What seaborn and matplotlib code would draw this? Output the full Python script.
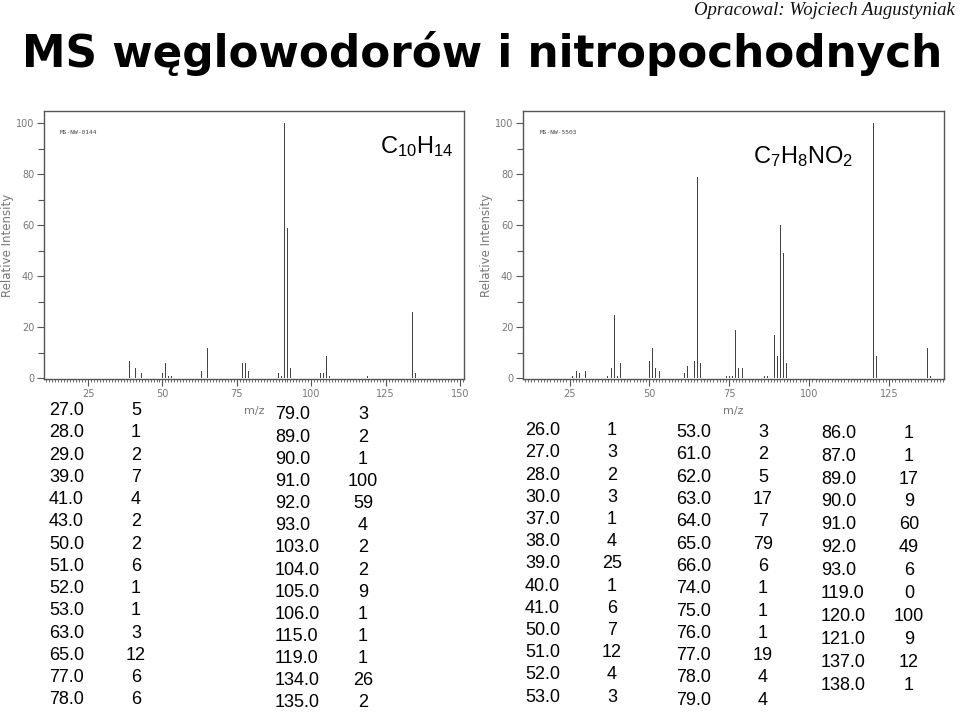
import matplotlib
matplotlib.use("Agg")
import matplotlib.pyplot as plt
import seaborn as sns
import pandas as pd
from matplotlib.ticker import MultipleLocator, FixedLocator

# ---------------- data ----------------
c10_mz = [27, 28, 29, 39, 41, 43, 50, 51, 52, 53, 63, 65, 77, 78,
          79, 89, 90, 91, 92, 93, 103, 104, 105, 106, 115, 119, 134, 135]
c10_int = [5, 1, 2, 7, 4, 2, 2, 6, 1, 1, 3, 12, 6, 6,
           3, 2, 1, 100, 59, 4, 2, 2, 9, 1, 1, 1, 26, 2]

n_mz = [26, 27, 28, 30, 37, 38, 39, 40, 41, 50, 51, 52, 53,
        53, 61, 62, 63, 64, 65, 66, 74, 75, 76, 77, 78, 79,
        86, 87, 89, 90, 91, 92, 93, 119, 120, 121, 137, 138]
n_int = [1, 3, 2, 3, 1, 4, 25, 1, 6, 7, 12, 4, 3,
         3, 2, 5, 17, 7, 79, 6, 1, 1, 1, 19, 4, 4,
         1, 1, 17, 9, 60, 49, 6, 0, 100, 9, 12, 1]

x_ticks = [25, 50, 75, 100, 125, 150]
y_ticks = [0, 20, 40, 60, 80, 100]

title = "MS węglowodorów i nitropochodnych"
author = "Opracowal: Wojciech Augustyniak"

# ---------------- figure ----------------
sns.set_style("white")
plt.rcParams["font.family"] = ["Liberation Sans", "DejaVu Sans"]
plt.rcParams["mathtext.fontset"] = "custom"
plt.rcParams["mathtext.rm"] = "Liberation Sans"
plt.rcParams["mathtext.it"] = "Liberation Sans"

W, H = 960, 713
fig = plt.figure(figsize=(W / 100, H / 100), dpi=100)
fig.patch.set_facecolor("white")


def px_axes(x0, y0, x1, y1):
    return fig.add_axes([x0 / W, 1 - y1 / H, (x1 - x0) / W, (y1 - y0) / H])


def style_spectrum(ax, xlim, ylim, ylab_x):
    ax.set_xlim(*xlim)
    ax.set_ylim(*ylim)
    ax.xaxis.set_major_locator(FixedLocator(x_ticks))
    ax.xaxis.set_minor_locator(MultipleLocator(1))
    ax.yaxis.set_major_locator(FixedLocator(y_ticks))
    ax.yaxis.set_minor_locator(FixedLocator([10, 30, 50, 70, 90]))
    ax.tick_params(axis="both", which="major", direction="out", length=5,
                   width=0.8, color="#555555", labelsize=7, labelcolor="#777777",
                   bottom=True, left=True, pad=2)
    ax.tick_params(axis="x", which="minor", direction="out", length=2.5,
                   width=0.6, color="#555555", bottom=True)
    ax.tick_params(axis="y", which="minor", direction="out", length=4,
                   width=0.8, color="#555555", left=True)
    for lab in ax.get_xticklabels() + ax.get_yticklabels():
        lab.set_family("DejaVu Sans")
    for s in ax.spines.values():
        s.set_color("#555555")
        s.set_linewidth(1.0)
    ax.set_ylabel("Relative Intensity", fontsize=8.5, color="#777777",
                  family="DejaVu Sans")
    ax.yaxis.set_label_coords(ylab_x, 0.5)
    ax.set_xlabel("m/z", fontsize=8, color="#777777", family="DejaVu Sans",
                  labelpad=5)
    ax.set_facecolor("white")


# left spectrum
ax1 = px_axes(44, 111, 464, 379)
df1 = pd.DataFrame({"mz": c10_mz, "intensity": c10_int})
sns.barplot(data=df1, x="mz", y="intensity", native_scale=True, width=0.3,
            color="#444444", linewidth=0, errorbar=None, ax=ax1)
style_spectrum(ax1, (10.2, 151.3), (-0.2, 104.8), -0.072)
ax1.text(0.038, 0.92, "MS-NW-0144", transform=ax1.transAxes, fontsize=4.5,
         family="DejaVu Sans Mono", color="#444444", va="center")
ax1.text(0.974, 0.843, r"C$_{10}$H$_{14}$", transform=ax1.transAxes,
         fontsize=17, ha="right", va="baseline", color="black")

# right spectrum
ax2 = px_axes(523, 111, 944, 379)
df2 = pd.DataFrame({"mz": n_mz, "intensity": n_int})
sns.barplot(data=df2, x="mz", y="intensity", native_scale=True, width=0.3,
            color="#444444", linewidth=0, errorbar=None, ax=ax2)
style_spectrum(ax2, (10.4, 142.2), (-0.2, 104.8), -0.071)
ax2.text(0.04, 0.92, "MS-NW-5503", transform=ax2.transAxes, fontsize=4.5,
         family="DejaVu Sans Mono", color="#444444", va="center")
ax2.text(0.546, 0.806, r"C$_7$H$_8$NO$_2$", transform=ax2.transAxes,
         fontsize=17, ha="left", va="baseline", color="black")

# ---------------- tables ----------------
blocks = [
    (c10_mz[:14], c10_int[:14], 49, 136, 410.7, 22.25),
    (c10_mz[14:], c10_int[14:], 275, 363, 415.0, 22.15),
    (n_mz[:13], n_int[:13], 525, 612, 430.7, 22.2),
    (n_mz[13:26], n_int[13:26], 676, 763, 432.7, 22.3),
    (n_mz[26:], n_int[26:], 821, 909, 433.3, 22.9),
]
for mzs, vals, xm, xv, y0, dy in blocks:
    for i, (m, v) in enumerate(zip(mzs, vals)):
        y = 1 - (y0 + i * dy) / H
        fig.text(xm / W, y, f"{m:.1f}", fontsize=13, ha="left", va="center",
                 color="black")
        fig.text(xv / W, y, f"{v}", fontsize=13, ha="center", va="center",
                 color="black")

# ---------------- titles ----------------
fig.text(482 / W, 1 - 67 / H, title, fontsize=31.5, fontweight="bold",
         ha="center", va="baseline", color="black",
         family=["DejaVu Sans"])
fig.text(955 / W, 1 - 15 / H, author, fontsize=13.5, style="italic",
         ha="right", va="baseline", color="#111111",
         family=["Liberation Serif"])

fig.savefig("out.png", dpi=100, facecolor="white")
